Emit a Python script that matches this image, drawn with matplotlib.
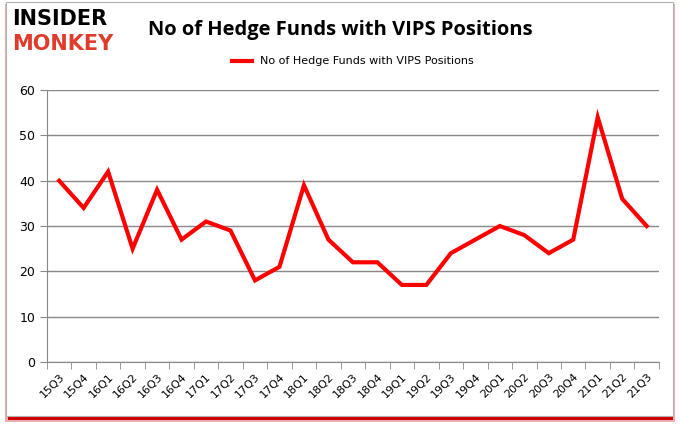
import matplotlib.pyplot as plt
from matplotlib.patches import Rectangle

quarters = ['15Q3', '15Q4', '16Q1', '16Q2', '16Q3', '16Q4', '17Q1', '17Q2', '17Q3',
            '17Q4', '18Q1', '18Q2', '18Q3', '18Q4', '19Q1', '19Q2', '19Q3', '19Q4',
            '20Q1', '20Q2', '20Q3', '20Q4', '21Q1', '21Q2', '21Q3']
hedge_funds = [40, 34, 42, 25, 38, 27, 31, 29, 18, 21, 39, 27, 22, 22, 17, 17,
               24, 27, 30, 28, 24, 27, 54, 36, 30]
series_name = 'No of Hedge Funds with VIPS Positions'

fig = plt.figure(figsize=(6.8, 4.33), dpi=100)

# frame with red shadow at the bottom
fig.patches.append(Rectangle((0.008, 0.025), 0.985, 0.965, transform=fig.transFigure,
                             facecolor='#e8b0b0', edgecolor='none', zorder=-3))
fig.patches.append(Rectangle((0.012, 0.03), 0.978, 0.962, transform=fig.transFigure,
                             facecolor='#d40000', edgecolor='none', zorder=-2))
fig.patches.append(Rectangle((0.009, 0.04), 0.98, 0.955, transform=fig.transFigure,
                             facecolor='white', edgecolor='#b0b0b0', linewidth=0.8, zorder=-1))

ax = fig.add_axes([0.069, 0.164, 0.9, 0.628])
x = list(range(len(quarters)))
ax.plot(x, hedge_funds, color='#ff0000', linewidth=3, label=series_name, solid_joinstyle='miter')

ax.set_xlim(-0.5, len(quarters) - 0.5)
ax.set_ylim(0, 60)
ax.set_yticks(range(0, 61, 10))
ax.yaxis.grid(True, color='#888888', linewidth=1)
ax.set_axisbelow(True)
for s in ['top', 'right']:
    ax.spines[s].set_visible(False)
ax.spines['left'].set_color('#888888')
ax.spines['bottom'].set_color('#888888')

ax.set_xticks(x)
ax.set_xticklabels(quarters, rotation=45, ha='right', rotation_mode='anchor', fontsize=8)
ax.tick_params(axis='x', which='major', length=0, pad=7)
ax.set_xticks([i - 0.5 for i in range(len(quarters) + 1)], minor=True)
ax.tick_params(axis='x', which='minor', length=5, color='#888888', direction='out')
ax.tick_params(axis='y', length=5, color='#888888', labelsize=9)

ax.legend(loc='lower center', bbox_to_anchor=(0.5, 1.05), frameon=False, fontsize=8,
          handlelength=1.8)

fig.text(0.5, 0.93, series_name, ha='center', va='center', fontsize=14.5,
         fontweight='bold', family='Open Sans')

# logo
fig.text(0.018, 0.955, 'INSIDER', ha='left', va='center', fontsize=15,
         fontweight='heavy', color='black', family='DejaVu Sans')
fig.text(0.018, 0.898, 'MONKEY', ha='left', va='center', fontsize=15,
         fontweight='heavy', color='#e03c2c', family='DejaVu Sans')

fig.savefig('out.png', dpi=100)
